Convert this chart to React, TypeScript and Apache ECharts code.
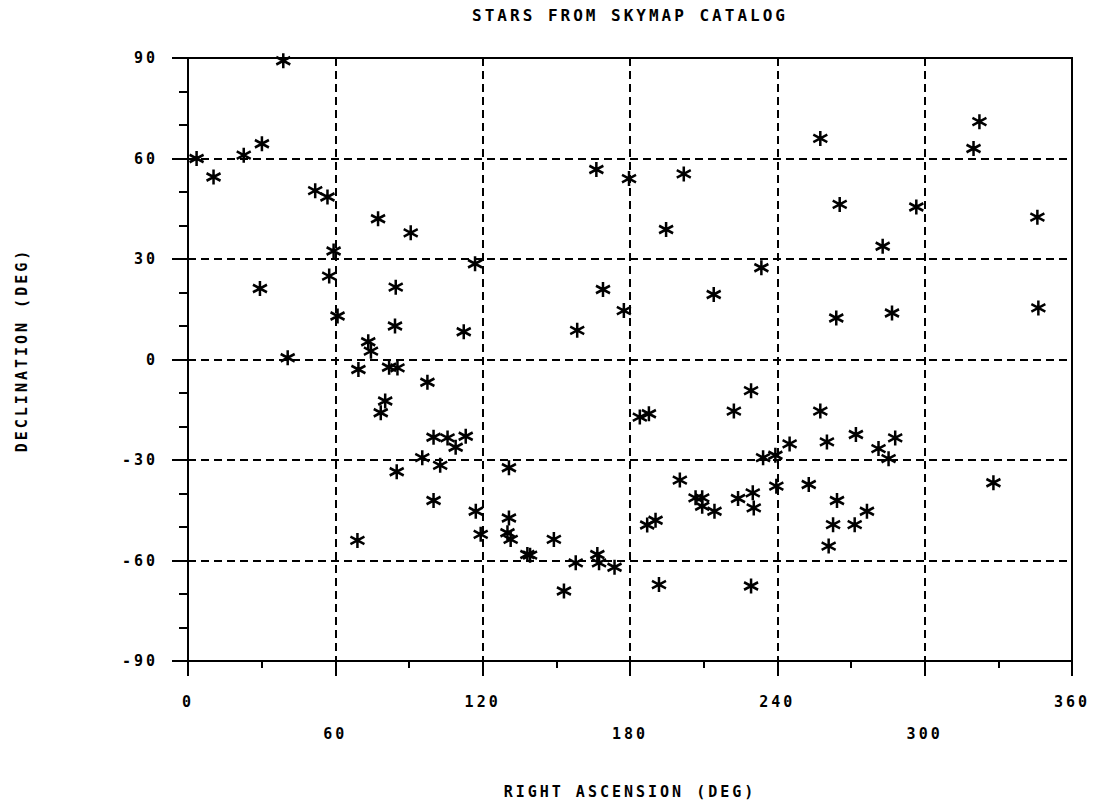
import React, { useEffect, useRef } from "react";
import * as echarts from "echarts";

const titleText = "STARS FROM SKYMAP CATALOG";
const xAxisName = "RIGHT ASCENSION (DEG)";
const yAxisName = "DECLINATION (DEG)";

const xTicks = [0, 60, 120, 180, 240, 300, 360];
const yTicks = [-90, -60, -30, 0, 30, 60, 90];

// Right ascension (deg) of each star
const raValues = [
  3.5, 10.4, 22.7, 30.1, 38.8, 29.3, 40.6, 51.8, 56.8, 59.3,
  57.5, 60.9, 77.4, 90.7, 84.6, 84.3, 73.4, 74.5, 69.4, 81.9,
  85.3, 97.5, 80.3, 78.5, 100.0, 105.7, 109.0, 113.1, 95.4, 102.7,
  85.0, 100.0, 69.0, 112.3, 116.9, 130.7, 117.2, 119.2, 130.7, 130.1,
  131.4, 138.2, 139.3, 149.0, 153.1, 157.9, 166.7, 167.4, 173.7, 158.5,
  166.3, 179.6, 201.9, 194.7, 169.0, 177.5, 214.1, 233.5, 184.0, 187.7,
  187.0, 190.4, 191.8, 200.3, 206.7, 209.4, 209.4, 214.4, 222.3, 229.3,
  224.0, 230.0, 230.4, 229.3, 234.2, 239.2, 239.6, 245.0, 257.5, 260.2,
  272.0, 281.2, 288.0, 285.3, 252.8, 264.3, 262.7, 271.5, 276.5, 260.9,
  328.0, 257.5, 322.3, 319.9, 265.4, 296.6, 345.9, 282.9, 264.0, 286.7,
  346.3,
];

// Declination (deg) of each star
const decValues = [
  60.0, 54.5, 61.0, 64.4, 89.2, 21.2, 0.5, 50.4, 48.5, 32.4,
  24.9, 13.0, 42.0, 37.8, 21.6, 10.0, 5.3, 2.5, -3.0, -2.3,
  -2.5, -6.8, -12.4, -15.9, -23.2, -23.4, -26.2, -22.9, -29.3, -31.6,
  -33.5, -42.1, -54.0, 8.3, 28.6, -32.3, -45.3, -52.2, -47.3, -51.7,
  -53.7, -58.2, -58.4, -53.7, -69.1, -60.7, -58.2, -60.7, -62.0, 8.7,
  56.7, 54.0, 55.4, 38.8, 20.9, 14.6, 19.4, 27.4, -17.2, -16.2,
  -49.4, -48.0, -67.2, -36.0, -41.3, -41.3, -43.8, -45.3, -15.4, -9.3,
  -41.5, -39.8, -44.3, -67.6, -29.3, -28.6, -37.8, -25.2, -15.4, -24.6,
  -22.4, -26.6, -23.4, -29.6, -37.3, -42.1, -49.3, -49.3, -45.3, -55.7,
  -36.8, 66.0, 71.0, 63.0, 46.3, 45.5, 42.5, 33.8, 12.4, 13.9,
  15.4,
];

const FONT = '"DejaVu Sans Mono", monospace';

export default function App() {
  const ref = useRef<HTMLDivElement>(null);

  useEffect(() => {
    if (!ref.current) return;
    const chart = echarts.init(ref.current, undefined, { renderer: "svg" });
    const points = raValues.map((ra, i) => [ra, decValues[i]]);

    const axisLineStyle = { color: "#000", width: 2 };
    const dashed = { color: "#000", width: 2, type: [8, 5] as number[] };

    chart.setOption({
      animation: false,
      backgroundColor: "#fff",
      grid: {
        left: 188,
        right: 21,
        top: 58,
        bottom: 141,
        show: true,
        borderColor: "#000",
        borderWidth: 2,
        containLabel: false,
        outerBoundsMode: "none",
      },
      xAxis: {
        type: "value",
        min: xTicks[0],
        max: xTicks[xTicks.length - 1],
        interval: 60,
        axisLine: { show: true, onZero: false, lineStyle: axisLineStyle },
        axisTick: { show: true, length: 15, lineStyle: axisLineStyle },
        minorTick: { show: true, splitNumber: 2, length: 7, lineStyle: axisLineStyle },
        splitLine: { show: true, lineStyle: dashed },
        axisLabel: {
          margin: 25,
          color: "#000",
          fontFamily: FONT,
          fontSize: 15,
          fontWeight: "bold",
          lineHeight: 32,
          formatter: (v: number) => {
            const r = Math.round(v);
            return r % 120 === 0 ? String(r) : "\n" + r;
          },
        },
      },
      yAxis: {
        type: "value",
        min: yTicks[0],
        max: yTicks[yTicks.length - 1],
        interval: 30,
        axisLine: { show: true, onZero: false, lineStyle: axisLineStyle },
        axisTick: { show: true, length: 16, lineStyle: axisLineStyle },
        minorTick: { show: true, splitNumber: 3, length: 9, lineStyle: axisLineStyle },
        splitLine: { show: true, lineStyle: dashed },
        axisLabel: {
          margin: 30,
          color: "#000",
          fontFamily: FONT,
          fontSize: 15,
          fontWeight: "bold",
        },
      },
      graphic: [
        {
          type: "text",
          x: 630,
          y: 15,
          style: {
            text: titleText,
            fill: "#000",
            font: `bold 16px ${FONT}`,
            align: "center",
            verticalAlign: "middle",
          },
        },
        {
          type: "text",
          x: 630,
          y: 792,
          style: {
            text: xAxisName,
            fill: "#000",
            font: `bold 15px ${FONT}`,
            align: "center",
            verticalAlign: "middle",
          },
        },
        {
          type: "text",
          x: 22,
          y: 350,
          rotation: Math.PI / 2,
          style: {
            text: yAxisName,
            fill: "#000",
            font: `bold 15px ${FONT}`,
            align: "center",
            verticalAlign: "middle",
          },
        },
      ],
      series: [
        {
          type: "scatter",
          data: points,
          symbol: "path://M6,0L6,14M0,3.5L12,10.5M0,10.5L12,3.5",
          symbolSize: [14, 15],
          itemStyle: { color: "#000", borderColor: "#000", borderWidth: 2.6, opacity: 1 },
          emphasis: { disabled: true },
        },
      ],
    });

    return () => chart.dispose();
  }, []);

  return (
    <div
      ref={ref}
      style={{
        position: "fixed",
        left: 0,
        top: 0,
        width: 1093,
        height: 802,
        letterSpacing: "3px",
        background: "#fff",
      }}
    />
  );
}
